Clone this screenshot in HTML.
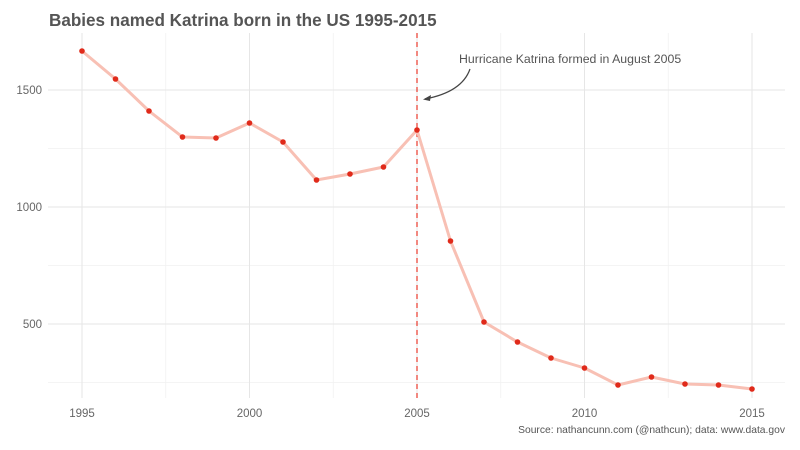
<!DOCTYPE html>
<html><head><style>body{margin:0;background:#fff}svg{display:block}text{font-family:"Liberation Sans",sans-serif}</style></head>
<body>
<svg width="800" height="450" viewBox="0 0 800 450">
<rect width="800" height="450" fill="#fff"/>
<g stroke="#f0f0f0" stroke-width="0.8">
<line x1="48" x2="785" y1="148.5" y2="148.5"/><line x1="48" x2="785" y1="265.5" y2="265.5"/><line x1="48" x2="785" y1="382.5" y2="382.5"/>
<line x1="165.75" x2="165.75" y1="33" y2="398"/><line x1="333.25" x2="333.25" y1="33" y2="398"/><line x1="500.75" x2="500.75" y1="33" y2="398"/><line x1="668.25" x2="668.25" y1="33" y2="398"/>
</g>
<g stroke="#e6e6e6" stroke-width="1">
<line x1="48" x2="785" y1="90" y2="90"/><line x1="48" x2="785" y1="207" y2="207"/><line x1="48" x2="785" y1="324" y2="324"/>
<line x1="82" x2="82" y1="33" y2="398"/><line x1="249.5" x2="249.5" y1="33" y2="398"/><line x1="417" x2="417" y1="33" y2="398"/><line x1="584.5" x2="584.5" y1="33" y2="398"/><line x1="752" x2="752" y1="33" y2="398"/>
</g>
<line x1="417" x2="417" y1="33" y2="398" stroke="#e8392c" stroke-width="1.2" stroke-dasharray="5,4"/>
<polyline fill="none" stroke="#f8c0b4" stroke-width="3" stroke-linejoin="round" points="82,51 115.5,79 149,111 182.5,137 216,138 249.5,123 283,142 316.5,180 350,174 383.5,167 417,130 450.5,241 484,322 517.5,342 551,358 584.5,368 618,385 651.5,377 685,384 718.5,385 752,389"/>
<g fill="#e02a1a">
<circle cx="82" cy="51" r="2.8"/><circle cx="115.5" cy="79" r="2.8"/><circle cx="149" cy="111" r="2.8"/><circle cx="182.5" cy="137" r="2.8"/><circle cx="216" cy="138" r="2.8"/><circle cx="249.5" cy="123" r="2.8"/><circle cx="283" cy="142" r="2.8"/><circle cx="316.5" cy="180" r="2.8"/><circle cx="350" cy="174" r="2.8"/><circle cx="383.5" cy="167" r="2.8"/><circle cx="417" cy="130" r="2.8"/><circle cx="450.5" cy="241" r="2.8"/><circle cx="484" cy="322" r="2.8"/><circle cx="517.5" cy="342" r="2.8"/><circle cx="551" cy="358" r="2.8"/><circle cx="584.5" cy="368" r="2.8"/><circle cx="618" cy="385" r="2.8"/><circle cx="651.5" cy="377" r="2.8"/><circle cx="685" cy="384" r="2.8"/><circle cx="718.5" cy="385" r="2.8"/><circle cx="752" cy="389" r="2.8"/>
</g>
<path d="M470,69 Q462,92 425,99" fill="none" stroke="#444" stroke-width="1.2"/>
<path d="M423,99.5 L431,95 L430,101 Z" fill="#444"/>
<text x="459" y="63" font-size="12.3" fill="#555">Hurricane Katrina formed in August 2005</text>
<text x="49" y="26" font-size="17.1" font-weight="bold" fill="#555">Babies named Katrina born in the US 1995-2015</text>
<g font-size="11.5" fill="#666" text-anchor="end">
<text x="42" y="94">1500</text><text x="42" y="211">1000</text><text x="42" y="328">500</text>
</g>
<g font-size="11.5" fill="#666" text-anchor="middle">
<text x="82" y="417">1995</text><text x="249.5" y="417">2000</text><text x="417" y="417">2005</text><text x="584.5" y="417">2010</text><text x="752" y="417">2015</text>
</g>
<text x="785" y="433" font-size="10.3" fill="#555" text-anchor="end">Source: nathancunn.com (@nathcun); data: www.data.gov</text>
</svg>
</body></html>
